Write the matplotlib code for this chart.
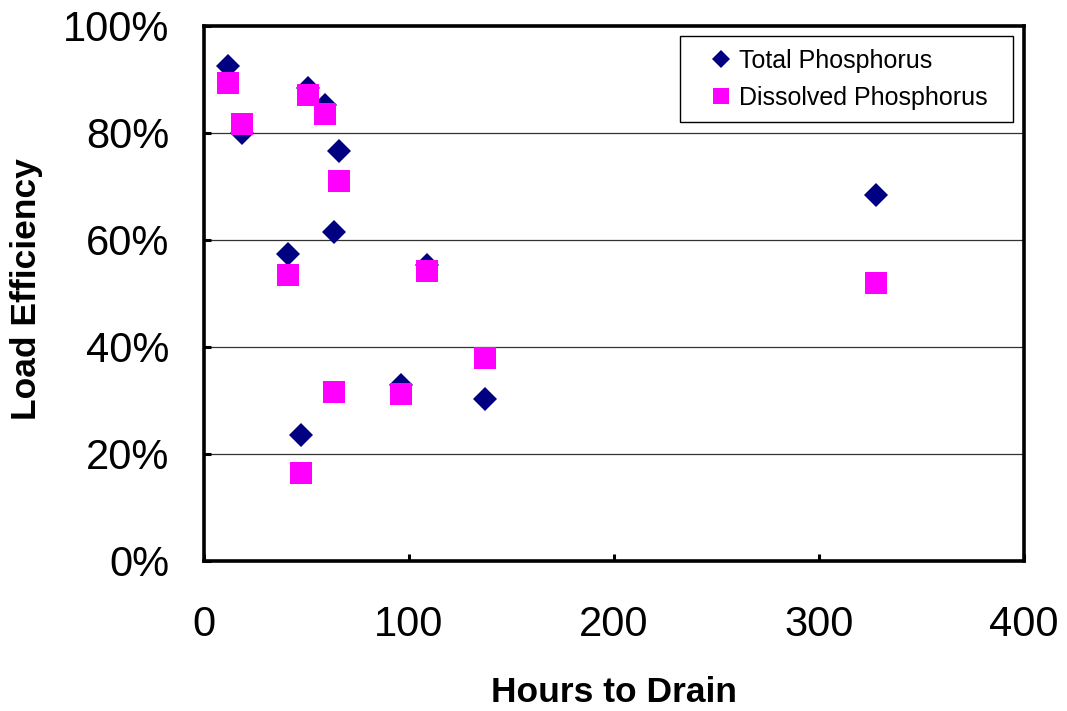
import numpy
import matplotlib
matplotlib.use("Agg")
import matplotlib.pyplot as plt

plt.rcParams['font.family'] = ['Liberation Sans', 'DejaVu Sans']

# hours to drain for each site, and load efficiency in percent
hours = [11.5, 18.5, 41, 47.5, 50.5, 59.2, 63.4, 65.7, 96, 108.8, 137, 328]
total_p = [92.5, 79.9, 57.3, 23.6, 88.4, 85.2, 61.4, 76.6, 32.9, 55.3, 30.3, 68.4]
dissolved_p = [89.3, 81.6, 53.5, 16.4, 87.1, 83.5, 31.6, 70.9, 31.1, 54.1, 37.9, 51.9]

xticks = [0, 100, 200, 300, 400]
yticks = [0, 20, 40, 60, 80, 100]
ylabels = [str(v) + "%" for v in yticks]

fig = plt.figure(figsize=(10.67, 7.11), dpi=100)
ax = fig.add_axes([0.1912, 0.2110, 0.7686, 0.7530])

ax.plot(hours, total_p, linestyle='none', marker='D', markersize=12.2,
        color='#000080', markeredgewidth=0, label="Total Phosphorus", zorder=3)
ax.plot(hours, dissolved_p, linestyle='none', marker='s', markersize=15.8,
        color='#ff00ff', markeredgewidth=0, label="Dissolved Phosphorus", zorder=4)

ax.set_xlim(0, 400)
ax.set_ylim(0, 100)
ax.set_xticks(xticks)
ax.set_yticks(yticks)
ax.set_yticklabels(ylabels)

for y in yticks[1:-1]:
    ax.axhline(y, color='#333333', linewidth=0.9, zorder=1)

for s in ax.spines.values():
    s.set_linewidth(2.6)
ax.tick_params(axis='both', direction='in', length=5, width=2.2, labelsize=30)
ax.tick_params(axis='y', pad=25)
ax.tick_params(axis='x', pad=32)

ax.set_xlabel("Hours to Drain", fontsize=25.5, fontweight='bold', labelpad=22)
ax.set_ylabel("Load Efficiency", fontsize=25.5, fontweight='bold')
ax.yaxis.set_label_coords(-0.196, 0.508)

leg = ax.legend(loc='upper left', bbox_to_anchor=(0.580, 0.980, 0.4066, 0),
                mode='expand', borderaxespad=0, fontsize=18, markerscale=0.72,
                borderpad=0.5, handlelength=2.28, handletextpad=-0.42,
                labelspacing=0.52, fancybox=False, framealpha=1)
leg.get_frame().set_edgecolor('black')
leg.get_frame().set_linewidth(1.0)

plt.savefig("out.png", dpi=100)
